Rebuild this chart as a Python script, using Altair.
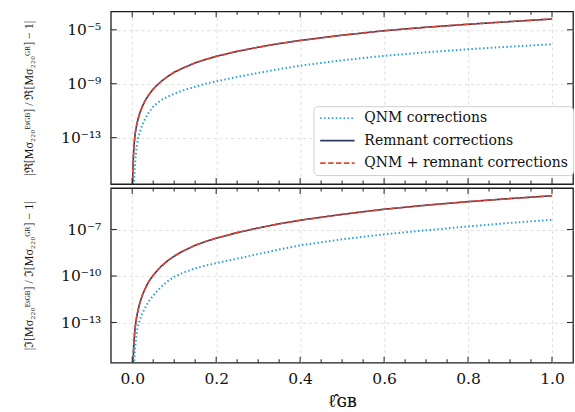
import altair as alt
import pandas as pd

# ---- data (log10 of the plotted quantity) ----
ell = [0.0005, 0.001, 0.0015, 0.002, 0.003, 0.004, 0.005, 0.006, 0.0075, 0.01,
       0.012, 0.014, 0.018, 0.024, 0.03, 0.035, 0.04, 0.05, 0.06, 0.07,
       0.085, 0.1, 0.12, 0.15, 0.175, 0.2, 0.25, 0.3, 0.35, 0.4,
       0.5, 0.6, 0.7, 0.8, 0.9, 1.0]

# top panel: real part
qnm_re_log = [-20.0, -19.0, -18.2, -17.8, -17.2, -16.5, -15.8, -15.3, -14.65, -13.9,
              -13.45, -13.05, -12.6, -12.05, -11.65, -11.35, -11.1, -10.7, -10.42, -10.2,
              -9.95, -9.75, -9.5, -9.22, -9.0, -8.82, -8.5, -8.2, -7.92, -7.66,
              -7.26, -6.93, -6.67, -6.44, -6.25, -6.07]
rem_re_log = [-17.4, -16.2, -15.5, -15.0, -14.3, -13.8, -13.35, -13.0, -12.6, -12.15,
              -11.88, -11.6, -11.18, -10.7, -10.3, -10.04, -9.8, -9.4, -9.08, -8.8,
              -8.45, -8.15, -7.85, -7.45, -7.2, -6.97, -6.6, -6.29, -6.02, -5.79,
              -5.4, -5.07, -4.81, -4.59, -4.39, -4.2]
tot_re_log = [-17.4, -16.2, -15.5, -15.0, -14.3, -13.8, -13.35, -13.0, -12.6, -12.15,
              -11.88, -11.6, -11.18, -10.7, -10.3, -10.04, -9.8, -9.4, -9.08, -8.8,
              -8.45, -8.15, -7.85, -7.45, -7.2, -6.97, -6.6, -6.29, -6.02, -5.79,
              -5.4, -5.07, -4.81, -4.59, -4.39, -4.2]

# bottom panel: imaginary part
qnm_im_log = [-19.5, -18.5, -17.8, -17.3, -16.6, -15.9, -15.35, -14.9, -14.45, -13.8,
              -13.45, -13.2, -12.85, -12.4, -12.1, -11.85, -11.62, -11.26, -10.95, -10.68,
              -10.33, -10.05, -9.8, -9.5, -9.33, -9.17, -8.88, -8.58, -8.29, -8.02,
              -7.63, -7.31, -7.05, -6.8, -6.57, -6.37]
rem_im_log = [-18.0, -16.9, -16.2, -15.7, -14.9, -14.4, -13.95, -13.6, -13.2, -12.75,
              -12.45, -12.2, -11.75, -11.25, -10.87, -10.58, -10.34, -9.95, -9.63, -9.35,
              -9.0, -8.72, -8.4, -8.02, -7.77, -7.56, -7.2, -6.9, -6.63, -6.4,
              -6.02, -5.69, -5.43, -5.2, -5.0, -4.82]
tot_im_log = [-18.0, -16.9, -16.2, -15.7, -14.9, -14.4, -13.95, -13.6, -13.2, -12.75,
              -12.45, -12.2, -11.75, -11.25, -10.87, -10.58, -10.34, -9.95, -9.63, -9.35,
              -9.0, -8.72, -8.4, -8.02, -7.77, -7.56, -7.2, -6.9, -6.63, -6.4,
              -6.02, -5.69, -5.43, -5.2, -5.0, -4.82]

SERIES = ["QNM corrections", "Remnant corrections", "QNM + remnant corrections"]
COLORS = ["#2c9fda", "#2d3a68", "#e8452a"]
DASHES = [[1.5, 2.4], [1, 0], [5.5, 2.4]]
WIDTHS = [2.0, 1.6, 1.6]
DRAW_ORDER = [1, 2, 0]

x_major = [0.0, 0.2, 0.4, 0.6, 0.8, 1.0]
x_minor = [0.05, 0.1, 0.15, 0.25, 0.3, 0.35, 0.45, 0.5, 0.55, 0.65, 0.7, 0.75, 0.85, 0.9, 0.95]
y_ticks_top = [1e-5, 1e-9, 1e-13]
y_ticks_bot = [1e-7, 1e-10, 1e-13]

SERIF = "DejaVu Serif"
TITLE_SERIF = "Liberation Serif"
FRAME = "#1e1e1e"
GRID = "#d6d6d6"
W, H1, H2 = 463, 173, 175


def make_df(qnm, rem, tot):
    rows = []
    for name, vals in zip(SERIES, [qnm, rem, tot]):
        for xv, lv in zip(ell, vals):
            rows.append({"ell": xv, "val": 10 ** lv, "series": name})
    return pd.DataFrame(rows)


df_top = make_df(qnm_re_log, rem_re_log, tot_re_log)
df_bot = make_df(qnm_im_log, rem_im_log, tot_im_log)

xscale = alt.Scale(domain=[-0.051, 1.05], nice=False, zero=False)


def panel(df, ydomain, yticks, ylabel_expr, ytitle, height, bottom, legend):
    if bottom:
        xaxis = alt.Axis(values=x_major, grid=True, gridDash=[3, 3], gridColor=GRID,
                         gridWidth=0.8, ticks=False, domain=False,
                         format=".1f", labelPadding=9, labelFontSize=15.5,
                         labelFont=SERIF, title="ℓ̂ɢʙ", titleFontSize=18, titleFont=SERIF,
                         titleFontWeight="normal", titlePadding=5)
    else:
        xaxis = alt.Axis(values=x_major, grid=True, gridDash=[3, 3], gridColor=GRID,
                         gridWidth=0.8, ticks=False, tickSize=0, domain=False,
                         labels=False, labelPadding=0, title=None,
                         minExtent=0, maxExtent=0)
    yaxis = alt.Axis(values=yticks, grid=True, gridDash=[3, 3], gridColor=GRID,
                     gridWidth=0.8, ticks=False, domain=False, labelExpr=ylabel_expr,
                     labelPadding=10, labelFontSize=15.5, labelFont=SERIF,
                     title=ytitle, titleFontSize=12, titleFont=TITLE_SERIF,
                     titleFontWeight="normal", titleAngle=270, titleAlign="center",
                     titleBaseline="middle", titleX=-82, titleY=height / 2)
    yscale = alt.Scale(type="log", domain=ydomain, nice=False)
    X = alt.X("ell:Q", scale=xscale, axis=xaxis)
    Y = alt.Y("val:Q", scale=yscale, axis=yaxis)

    layers = []
    for i in DRAW_ORDER:
        name = SERIES[i]
        base = alt.Chart(df).transform_filter(alt.datum.series == name).mark_line(
            clip=True, strokeWidth=WIDTHS[i], strokeCap="butt")
        if legend:
            leg = alt.Legend(orient="none", legendX=203, legendY=95, title=None,
                             symbolType="M-3,0H3", symbolSize=132, symbolStrokeWidth=1.8,
                             symbolOffset=12,
                             labelFont=SERIF, labelFontSize=14, labelColor="#111",
                             labelLimit=400, labelOffset=20, rowPadding=8.5, padding=5,
                             fillColor="white", strokeColor="#cfcfcf", cornerRadius=4)
            enc = dict(
                color=alt.Color("series:N", scale=alt.Scale(domain=SERIES, range=COLORS), legend=leg),
                strokeDash=alt.StrokeDash("series:N", scale=alt.Scale(domain=SERIES, range=DASHES), legend=leg),
            )
        else:
            enc = dict(color=alt.value(COLORS[i]), strokeDash=alt.value(DASHES[i]))
        layers.append(base.encode(x=X, y=Y, **enc))

    # inward tick marks on all four sides
    xt_major = pd.DataFrame({"ell": x_major})
    xt_minor = pd.DataFrame({"ell": x_minor})
    yt = pd.DataFrame({"val": yticks})
    rule = dict(color=FRAME, strokeWidth=1.0)
    layers += [
        alt.Chart(xt_major).mark_rule(**rule).encode(x=X, y=alt.value(0), y2=alt.value(6)),
        alt.Chart(xt_major).mark_rule(**rule).encode(x=X, y=alt.value(height), y2=alt.value(height - 6)),
        alt.Chart(xt_minor).mark_rule(**rule).encode(x=X, y=alt.value(0), y2=alt.value(3.5)),
        alt.Chart(xt_minor).mark_rule(**rule).encode(x=X, y=alt.value(height), y2=alt.value(height - 3.5)),
        alt.Chart(yt).mark_rule(**rule).encode(y=Y, x=alt.value(0), x2=alt.value(6)),
        alt.Chart(yt).mark_rule(**rule).encode(y=Y, x=alt.value(W), x2=alt.value(W - 6)),
    ]
    ch = alt.layer(*layers).properties(width=W, height=height)
    return ch


top = panel(df_top, [10 ** -16.44, 10 ** -3.63], y_ticks_top,
            "datum.value > 1e-7 ? '10⁻⁵' : (datum.value > 1e-11 ? '10⁻⁹' : '10⁻¹³')",
            "|ℜ[Mσ₂₂₀ᴱˢᴳᴮ] / ℜ[Mσ₂₂₀ᴳᴿ] − 1|", H1, False, True)
bot = panel(df_bot, [10 ** -15.6, 10 ** -4.32], y_ticks_bot,
            "datum.value > 1e-8 ? '10⁻⁷' : (datum.value > 1e-11 ? '10⁻¹⁰' : '10⁻¹³')",
            "|ℑ[Mσ₂₂₀ᴱˢᴳᴮ] / ℑ[Mσ₂₂₀ᴳᴿ] − 1|", H2, True, False)

chart = alt.vconcat(top, bot, spacing=0).resolve_scale(
    color="independent", strokeDash="independent"
).resolve_legend(color="independent", strokeDash="independent").properties(
    padding={"left": 22, "top": 9, "right": 0, "bottom": 5},
).configure_view(stroke=FRAME, strokeWidth=1.3).configure_axis(
    labelFont=SERIF, labelColor="#111", titleColor="#111"
).configure_legend(labelFont=SERIF)

chart.save("out.html", embed_options={"renderer": "svg", "actions": False})
